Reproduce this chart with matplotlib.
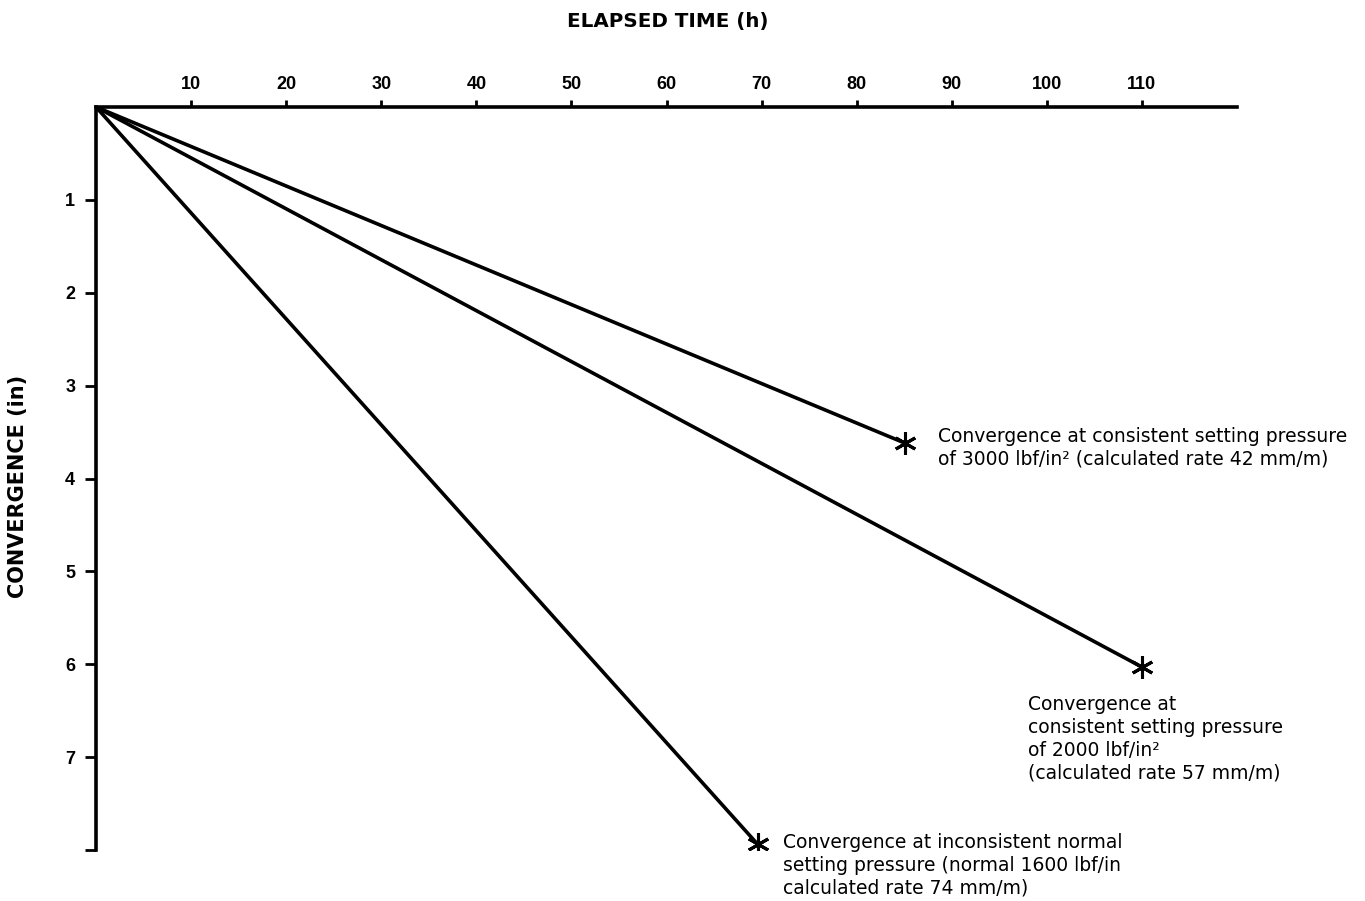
import matplotlib
matplotlib.use("Agg")
import matplotlib.pyplot as plt

# Data (elapsed time h, convergence in)
series_names = ["3000 lbf/in2", "2000 lbf/in2", "1600 lbf/in normal"]
end_time = [85.1, 110.0, 69.6]
end_conv = [3.62, 6.03, 7.94]
x_ticks = [10, 20, 30, 40, 50, 60, 70, 80, 90, 100, 110]
y_ticks = [1, 2, 3, 4, 5, 6, 7, 8]
y_tick_labels = ["1", "2", "3", "4", "5", "6", "7", ""]
notes = [
    "Convergence at consistent setting pressure\nof 3000 lbf/in² (calculated rate 42 mm/m)",
    "Convergence at\nconsistent setting pressure\nof 2000 lbf/in²\n(calculated rate 57 mm/m)",
    "Convergence at inconsistent normal\nsetting pressure (normal 1600 lbf/in\ncalculated rate 74 mm/m)",
]

plt.rcParams['font.family'] = ['DejaVu Sans']

fig = plt.figure(figsize=(13.65, 9.01), dpi=100)
ax = fig.add_axes([96 / 1365, 1 - 850 / 901, (1237 - 96) / 1365, (850 - 107) / 901])

for t, c in zip(end_time, end_conv):
    ax.plot([0, t], [0, c], color="black", lw=2.6, solid_capstyle="round", zorder=3)
    ax.plot([t], [c], marker=(6, 2, 0), color="black", markersize=16, mew=2.2, zorder=4)

ax.set_xlim(0, 120)
ax.set_ylim(8, 0)
ax.xaxis.tick_top()
ax.set_xticks(x_ticks)
ax.set_xticklabels([str(v) for v in x_ticks], fontsize=13, fontweight="bold",
                   family="Liberation Sans")
ax.set_yticks(y_ticks)
ax.set_yticklabels(y_tick_labels, fontsize=13, fontweight="bold", family="Liberation Sans")
ax.tick_params(axis="x", direction="out", length=5, width=2, pad=5)
ax.tick_params(axis="y", direction="out", length=8, width=2, pad=7)
for s in ["right", "bottom"]:
    ax.spines[s].set_visible(False)
for s in ["top", "left"]:
    ax.spines[s].set_linewidth(2.6)
ax.patch.set_alpha(0)

fig.text(668 / 1365, 1 - 21 / 901, "ELAPSED TIME (h)", ha="center", va="center",
         fontsize=14.3, fontweight="bold")
fig.text(18 / 1365, 1 - 486 / 901, "CONVERGENCE (in)", ha="center", va="center",
         rotation=90, fontsize=15, fontweight="bold")

# annotations: text anchored at top-left, offset (pixels) from marker
offsets = [(33, 16), (-114, -28), (25, 11)]
for (t, c), note, (dx, dy) in zip(zip(end_time, end_conv), notes, offsets):
    ax.annotate(note, xy=(t, c), xytext=(dx * 0.72, dy * 0.72), textcoords="offset points",
                ha="left", va="top", fontsize=13.5, linespacing=1.25)

fig.savefig("out.png", dpi=100, facecolor="white")
